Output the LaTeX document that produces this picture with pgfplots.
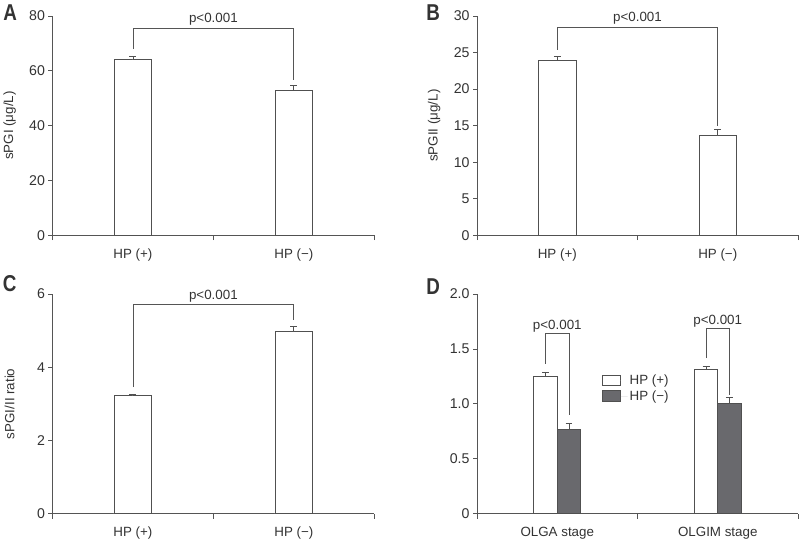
\documentclass[border=0pt]{standalone}
\usepackage{fontspec}
\setmainfont{Liberation Sans}
\usepackage{pgfplots}
\pgfplotsset{compat=1.18}
\definecolor{txt}{HTML}{333333}
\definecolor{axc}{HTML}{555555}
\definecolor{barl}{HTML}{505050}
\definecolor{darkbar}{HTML}{69696D}
\newcommand{\fs}{\fontsize{13.4}{15}\selectfont}
\newcommand{\ft}{\fontsize{14.2}{16}\selectfont}
\pgfplotsset{
 panel/.style={
  scale only axis, height=220pt,
  axis x line=bottom, axis y line=left,
  axis line style={-, draw=axc, line width=0.8pt},
  xmin=-0.5, xmax=1.5, ymin=0,
  tick align=outside, major tick length=4pt, minor tick length=5pt,
  every tick/.append style={draw=axc, line width=0.8pt},
  every major x tick/.append style={draw=none},
  minor xtick={-0.5,0.5,1.5},
  xtick={0,1},
  yticklabel style={font=\ft, text=txt},
  xticklabel style={font=\fs, text=txt, yshift=-6pt},
  /pgf/number format/assume math mode=true,
  label style={font=\fs, text=txt},
  every axis y label/.style={at={(axis description cs:0,0.5)}, xshift=-43pt, rotate=90, anchor=center},
  clip=false,
 },
 bars/.style={ybar, fill=white, draw=barl, line width=0.8pt,
  error bars/y dir=plus, error bars/y explicit,
  error bars/error bar style={draw=barl, line width=0.8pt},
  error bars/error mark options={rotate=90, draw=barl, line width=0.8pt, mark size=3.5pt}},
 brk/.style={draw=axc, line width=0.8pt, sharp plot, mark=none},
}
\begin{document}
\begin{tikzpicture}[x=1pt, y=1pt, font=\fs, text=txt]
\path (0,0) rectangle (799,537);
% Panel A
\begin{axis}[panel, at={(50pt,301pt)}, anchor=south west, width=323pt,
  ymax=80, ytick={0,20,40,60,80}, xticklabels={HP (+),HP (−)},
  ylabel={sPGI (μg/L)}]
\addplot[bars, bar width=0.235] coordinates {(0,64) +- (0,1.3) (1,53) +- (0,1.7)};
\addplot[brk] coordinates {(0,67.9) (0,75.6) (1,75.6) (1,56.7)};
\node[anchor=base, yshift=5.5pt] at (axis cs:0.5,75.6) {p<0.001};
\end{axis}
% Panel B
\begin{axis}[panel, at={(476pt,301pt)}, anchor=south west, width=322pt,
  ymax=30, ytick={0,5,10,15,20,25,30}, xticklabels={HP (+),HP (−)},
  ylabel={sPGII (μg/L)}]
\addplot[bars, bar width=0.235] coordinates {(0,23.9) +- (0,0.55) (1,13.65) +- (0,0.8)};
\addplot[brk] coordinates {(0,25.4) (0,28.45) (1,28.45) (1,14.95)};
\node[anchor=base, yshift=5.5pt] at (axis cs:0.5,28.45) {p<0.001};
\end{axis}
% Panel C
\begin{axis}[panel, at={(50pt,21.7pt)}, anchor=south west, width=323pt, height=220.3pt,
  ymax=6, ytick={0,2,4,6}, xticklabels={HP (+),HP (−)},
  ylabel={sPGI/II ratio}]
\addplot[bars, bar width=0.235] coordinates {(0,3.22) +- (0,0.03) (1,4.98) +- (0,0.15)};
\addplot[brk] coordinates {(0,3.46) (0,5.71) (1,5.71) (1,5.30)};
\node[anchor=base, yshift=5.5pt] at (axis cs:0.5,5.71) {p<0.001};
\end{axis}
% Panel D
\begin{axis}[panel, at={(476pt,21.7pt)}, anchor=south west, width=322pt, height=220.3pt,
  ymax=2, ytick={0,0.5,1.0,1.5,2.0}, xticklabels={OLGA stage,OLGIM stage},
  yticklabels={0,0.5,1.0,1.5,2.0},
  legend style={draw=none, fill=none, at={(0.39,0.64)}, anchor=north west,
    font=\fs, text=txt, row sep=0.5pt, inner sep=0pt},
  legend cell align=left]
\addplot[bars, bar width=0.146, bar shift=0,
  legend image code/.code={\draw[fill=white, draw=barl, line width=0.8pt] (0pt,-4.5pt) rectangle (18pt,6pt); \path[draw=none] (0pt,0pt) -- (25pt,0pt);}]
  coordinates {(-0.073,1.253) +- (0,0.037) (0.927,1.31) +- (0,0.034)};
\addlegendentry{HP (+)}
\addplot[bars, bar width=0.146, bar shift=0, fill=darkbar,
  legend image code/.code={\draw[fill=darkbar, draw=barl, line width=0.8pt] (0pt,-4.5pt) rectangle (18pt,6pt); \path[draw=none] (0pt,0pt) -- (25pt,0pt);}]
  coordinates {(0.073,0.763) +- (0,0.063) (1.073,1.005) +- (0,0.057)};
\addlegendentry{HP (−)}
\addplot[brk, forget plot] coordinates {(-0.073,1.365) (-0.073,1.64) (0.073,1.64) (0.073,0.90)};
\addplot[brk, forget plot] coordinates {(0.927,1.416) (0.927,1.689) (1.073,1.689) (1.073,1.085)};
\node[anchor=base, yshift=4pt] at (axis cs:0,1.64) {p<0.001};
\node[anchor=base, yshift=4pt] at (axis cs:1,1.689) {p<0.001};
\end{axis}
% panel letters
\node[font=\fontsize{23}{24}\selectfont\bfseries, xscale=0.82, transform shape] at (7.5,524.5) {A};
\node[font=\fontsize{23}{24}\selectfont\bfseries, xscale=0.82, transform shape] at (432,524.5) {B};
\node[font=\fontsize{23}{24}\selectfont\bfseries, xscale=0.82, transform shape] at (7,252) {C};
\node[font=\fontsize{23}{24}\selectfont\bfseries, xscale=0.82, transform shape] at (432,249.5) {D};
\end{tikzpicture}
\end{document}
